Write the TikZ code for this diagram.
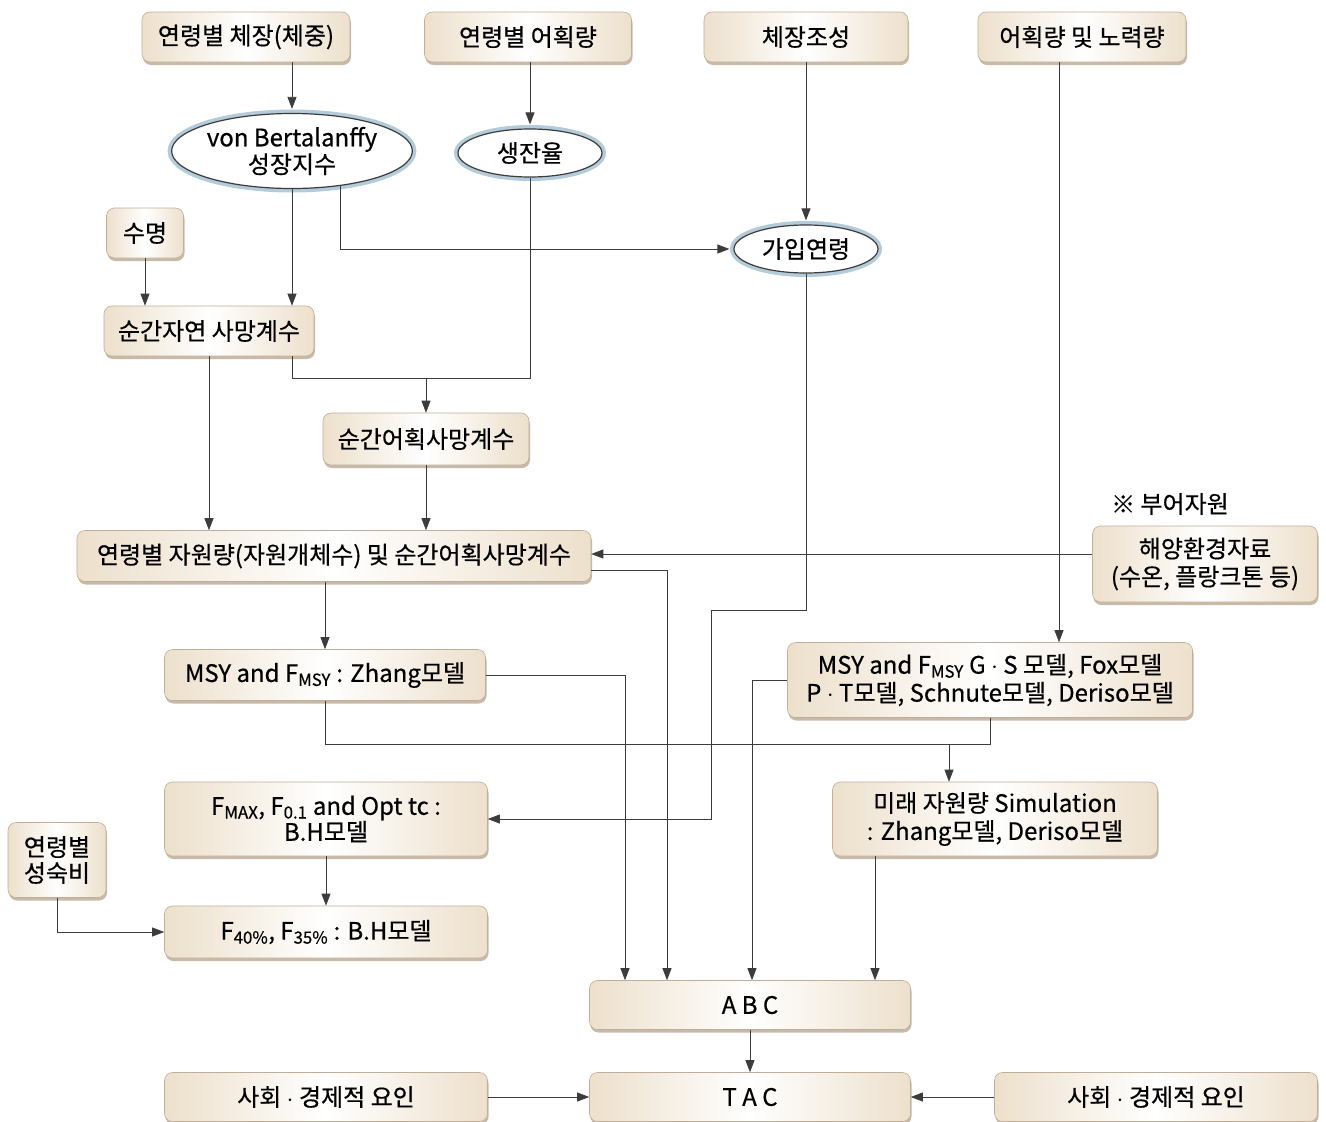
\documentclass[tikz,border=0pt]{standalone}
\usepackage{fontspec}
\setmainfont{Noto Sans CJK KR}[FakeBold=0.5]
\usetikzlibrary{arrows.meta,shapes.geometric,shadows,calc}
\definecolor{boxline}{HTML}{BFAF9A}
\definecolor{boxedge}{HTML}{EDE0CC}
\definecolor{shadowc}{HTML}{9C8064}
\definecolor{linec}{HTML}{3C3C3C}
\definecolor{ovalring}{HTML}{B4CCDA}
\newcommand{\fs}{\fontsize{24}{28}\selectfont}
\newcommand{\sub}[1]{\textsubscript{#1}}
\newcommand{\mdot}{ $\cdot$ }
\begin{document}
\begin{tikzpicture}[x=1pt,y=-1pt,
  box/.style={rectangle, rounded corners=8pt, draw=boxline, line width=0.6pt,
    left color=boxedge, right color=boxedge, middle color=white,
    drop shadow={shadow xshift=1pt, shadow yshift=-3pt, fill=shadowc, opacity=0.55},
    inner sep=0pt, align=center, font=\fs, text=black},
  oval/.style={ellipse, draw=linec, line width=1.2pt, fill=white,
    preaction={draw=ovalring, line width=8pt},
    inner sep=0pt, align=center, font=\fs},
  arr/.style={draw=linec, line width=0.7pt, -{Triangle[length=12pt,width=9pt]}},
  ln/.style={draw=linec, line width=0.7pt}]
\useasboundingbox (0,0) rectangle (1326,1122);
\fill[white] (0,0) rectangle (1326,1122);

% top row
\node[box, minimum width=208, minimum height=50] (a) at (246,37) {연령별 체장(체중)};
\node[box, minimum width=207, minimum height=50] (b) at (528,37) {연령별 어획량};
\node[box, minimum width=204, minimum height=50] (c) at (806,37) {체장조성};
\node[box, minimum width=208, minimum height=50] (d) at (1082,37) {어획량 및 노력량};

% ovals
\node[oval, minimum width=220, minimum height=75] (vb) at (292,151) {von Bertalanffy\\[-1pt]성장지수};
\node[oval, minimum width=144, minimum height=48] (sj) at (530,153) {생잔율};
\node[oval, minimum width=144, minimum height=48] (ga) at (806,249) {가입연령};

% left column
\node[box, minimum width=77, minimum height=50] (sm) at (145,233) {수명};
\node[box, minimum width=210, minimum height=50] (nat) at (209,331) {순간자연 사망계수};
\node[box, minimum width=206, minimum height=52] (fm) at (426,439) {순간어획사망계수};
\node[box, minimum width=514, minimum height=51] (stock) at (334,556) {연령별 자원량(자원개체수) 및 순간어획사망계수};

\node[font=\fs, inner sep=0pt] (note) at (1170,504) {※ 부어자원};
\node[box, minimum width=225, minimum height=76] (env) at (1205,564) {해양환경자료\\[0pt](수온, 플랑크톤 등)};

\node[box, minimum width=321, minimum height=51] (zh) at (325,675) {MSY and F\sub{MSY} : Zhang모델};
\node[box, minimum width=405, minimum height=75] (gs) at (990,680) {MSY and F\sub{MSY} G\mdot S 모델, Fox모델\\[0pt]P\mdot T모델, Schnute모델, Deriso모델};

\node[box, minimum width=323, minimum height=74] (fmax) at (326,819) {F\sub{MAX}, F\sub{0.1} and Opt tc :\\[-2pt]B.H모델};
\node[box, minimum width=325, minimum height=74] (fut) at (995,819) {미래 자원량 Simulation\\[0pt]: Zhang모델, Deriso모델};
\node[box, minimum width=98, minimum height=75] (mat) at (57,860) {연령별\\[-2pt]성숙비};
\node[box, minimum width=323, minimum height=52] (f40) at (326,932) {F\sub{40\%}, F\sub{35\%} : B.H모델};

\node[box, minimum width=321, minimum height=49] (abc) at (750,1005) {A B C};
\node[box, minimum width=321, minimum height=49] (tac) at (750,1097) {T A C};
\node[box, minimum width=323, minimum height=49] (s1) at (326,1097) {사회\mdot 경제적 요인};
\node[box, minimum width=323, minimum height=49] (s2) at (1156,1097) {사회\mdot 경제적 요인};

% helper coordinates
\coordinate (j) at (426,378);
\coordinate (k) at (711,610);
\coordinate (m) at (949,744);
\coordinate (x625) at (625,0);
\coordinate (x667) at (667,0);
\coordinate (x752) at (752,0);
\coordinate (x875) at (875,0);
\coordinate (x1059) at (1059,0);
\coordinate (envout) at ([yshift=10pt]env.west);
\coordinate (stockout) at ([yshift=-14pt]stock.east);

% connectors
\draw[arr] (vb.north |- a.south) -- ([yshift=4pt]vb.north);
\draw[arr] (sj.north |- b.south) -- ([yshift=4pt]sj.north);
\draw[arr] (c.south) -- ([yshift=4pt]ga.north);
\draw[arr] (x1059 |- d.south) -- (x1059 |- gs.north);
\draw[arr] (vb.south) -- (vb.south |- nat.north);
\draw[arr] (vb.-36) |- ([xshift=-4pt]ga.west);
\draw[arr] (sm.south) -- (sm.south |- nat.north);
\draw[ln] (nat.south -| vb.south) |- (sj.south |- j) -- (sj.south);
\draw[arr] (j) -- (fm.north);
\draw[arr] (nat.south) -- (nat.south |- stock.north);
\draw[arr] (fm.south) -- (fm.south |- stock.north);
\draw[arr] (envout) -- (stock.east |- envout);
\draw[arr] (stockout) -| (x667 |- abc.north);
\draw[arr] (zh.north |- stock.south) -- (zh.north);
\draw[arr] (ga.south) |- (k) |- (fmax.east);
\draw[arr] (zh.east) -| (x625 |- abc.north);
\draw[ln] (zh.south) |- (gs.south |- m) -- (gs.south);
\draw[arr] (m) -- (m |- fut.north);
\draw[arr] (gs.west) -| (x752 |- abc.north);
\draw[arr] (x875 |- fut.south) -- (x875 |- abc.north);
\draw[arr] (fmax.south) -- (f40.north);
\draw[arr] (mat.south) |- (f40.west);
\draw[arr] (abc.south) -- (tac.north);
\draw[arr] (s1.east) -- (tac.west);
\draw[arr] (s2.west) -- (tac.east);
\end{tikzpicture}
\end{document}
